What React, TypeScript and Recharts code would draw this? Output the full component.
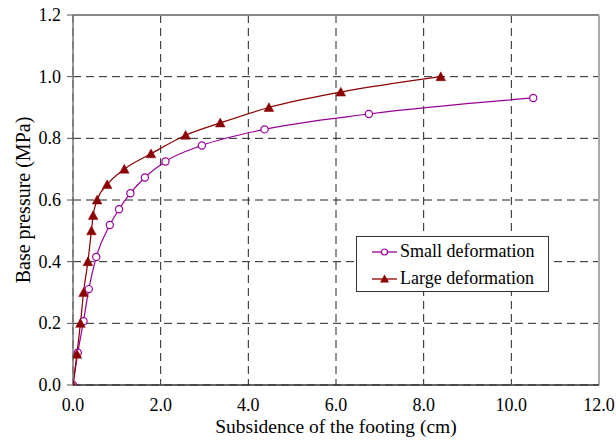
import React from 'react';
import { LineChart, Line, XAxis, YAxis, CartesianGrid, Legend, ReferenceLine } from 'recharts';

const smallX = [0, 0.11, 0.24, 0.36, 0.53, 0.84, 1.05, 1.31, 1.64, 2.11, 2.94, 4.37, 6.75, 10.5];
const smallY = [0, 0.105, 0.207, 0.311, 0.415, 0.519, 0.57, 0.622, 0.673, 0.725, 0.777, 0.829, 0.879, 0.931];
const largeX = [0, 0.09, 0.17, 0.24, 0.34, 0.42, 0.46, 0.55, 0.78, 1.17, 1.78, 2.57, 3.36, 4.47, 6.11, 8.39];
const largeY = [0, 0.1, 0.2, 0.3, 0.4, 0.5, 0.55, 0.6, 0.65, 0.7, 0.75, 0.81, 0.85, 0.9, 0.95, 1.0];
const xTicks = [0, 2, 4, 6, 8, 10, 12];
const yTicks = [0, 0.2, 0.4, 0.6, 0.8, 1.0, 1.2];
const seriesNames = ['Small deformation', 'Large deformation'];
const seriesColors = ['#990099', '#8B0000'];

const smallData = smallX.map((x, i) => ({ x, y: smallY[i] }));
const largeData = largeX.map((x, i) => ({ x, y: largeY[i] }));

const FONT = "'Liberation Serif', 'Times New Roman', serif";
const tickStyle = { fontFamily: FONT, fontSize: 18, fill: '#000' };

const Circle = (props: any) => {
  const { cx, cy } = props;
  if (cx == null || cy == null) return null;
  return <circle cx={cx} cy={cy} r={3.6} fill="#fff" stroke={seriesColors[0]} strokeWidth={1.2} />;
};

const Tri = (props: any) => {
  const { cx, cy } = props;
  if (cx == null || cy == null) return null;
  return (
    <polygon
      points={`${cx},${cy - 4.8} ${cx - 4.8},${cy + 4} ${cx + 4.8},${cy + 4}`}
      fill={seriesColors[1]}
      stroke={seriesColors[1]}
      strokeWidth={0.5}
    />
  );
};

const XTick = (props: any) => {
  const { x, y, payload } = props;
  return (
    <text x={x} y={y + 24} textAnchor="middle" style={tickStyle}>
      {Number(payload.value).toFixed(1)}
    </text>
  );
};

const YTick = (props: any) => {
  const { x, y, payload } = props;
  return (
    <text x={x - 4} y={y + 6} textAnchor="end" style={tickStyle}>
      {Number(payload.value).toFixed(1)}
    </text>
  );
};

const LegendBox = () => (
  <div
    style={{
      width: 191,
      height: 54,
      border: '1px solid #333',
      background: '#fff',
      fontFamily: FONT,
      fontSize: 18,
      color: '#000',
      boxSizing: 'content-box',
    }}
  >
    {seriesNames.map((name, i) => (
      <div key={name} style={{ height: 27, display: 'flex', alignItems: 'center', marginTop: i === 0 ? 1 : 0 }}>
        <svg width={44} height={16} style={{ flex: 'none' }}>
          <line x1={15} y1={8} x2={40} y2={8} stroke={seriesColors[i]} strokeWidth={1.3} />
          {i === 0 ? (
            <circle cx={27.5} cy={8} r={3} fill="#fff" stroke={seriesColors[0]} strokeWidth={1.2} />
          ) : (
            <polygon points="27.5,3.5 23,11.5 32,11.5" fill={seriesColors[1]} />
          )}
        </svg>
        <span style={{ marginLeft: -1, whiteSpace: 'nowrap' }}>{name}</span>
      </div>
    ))}
  </div>
);

const YLabel = (props: any) => {
  const vb = props.viewBox || { x: 0, y: 15, width: 73, height: 370 };
  const x = vb.x + 23;
  const y = vb.y + vb.height / 2;
  return (
    <text
      x={x}
      y={y}
      transform={`rotate(-90, ${x}, ${y})`}
      textAnchor="middle"
      dominantBaseline="central"
      style={{ fontFamily: FONT, fontSize: 20, fill: '#000' }}
    >
      Base pressure (MPa)
    </text>
  );
};

const XLabel = (props: any) => {
  const vb = props.viewBox || { x: 73, y: 385, width: 526, height: 56 };
  const x = vb.x + vb.width / 2;
  const y = vb.y + 48;
  return (
    <text x={x} y={y} textAnchor="middle" style={{ fontFamily: FONT, fontSize: 19.5, fill: '#000' }}>
      Subsidence of the footing (cm)
    </text>
  );
};

export default function App() {
  return (
    <div style={{ position: 'absolute', left: 0, top: 0, width: 616, height: 441, background: '#fff' }}>
      <LineChart width={616} height={441} margin={{ top: 15, right: 17, left: 0, bottom: 0 }}>
        <CartesianGrid stroke="#222" strokeDasharray="8 5" strokeWidth={1} />
        <XAxis
          type="number"
          dataKey="x"
          domain={[0, 12]}
          ticks={xTicks}
          height={56}
          tickSize={0}
          tickLine={false}
          axisLine={{ stroke: '#333', strokeWidth: 1.5 }}
          tick={<XTick />}
          interval={0}
          allowDataOverflow
          label={<XLabel />}
        />
        <YAxis
          type="number"
          dataKey="y"
          domain={[0, 1.2]}
          ticks={yTicks}
          width={73}
          tickSize={6}
          tickLine={{ stroke: '#555' }}
          axisLine={{ stroke: '#777', strokeWidth: 1.5 }}
          tick={<YTick />}
          interval={0}
          allowDataOverflow
          label={<YLabel />}
        />
        <ReferenceLine y={1.2} stroke="#888" strokeWidth={2} />
        <ReferenceLine x={12} stroke="#aaa" strokeWidth={2} />
        <Line
          data={smallData}
          dataKey="y"
          name={seriesNames[0]}
          type="monotone"
          stroke={seriesColors[0]}
          strokeWidth={1.2}
          dot={<Circle />}
          activeDot={false}
          isAnimationActive={false}
        />
        <Line
          data={largeData}
          dataKey="y"
          name={seriesNames[1]}
          type="monotone"
          stroke={seriesColors[1]}
          strokeWidth={1.2}
          dot={<Tri />}
          activeDot={false}
          isAnimationActive={false}
        />
        <Legend
          layout="vertical"
          align="center"
          verticalAlign="middle"
          content={<LegendBox />}
          wrapperStyle={{ position: 'absolute', left: 356, top: 236, width: 193, height: 56 }}
        />
      </LineChart>
    </div>
  );
}
